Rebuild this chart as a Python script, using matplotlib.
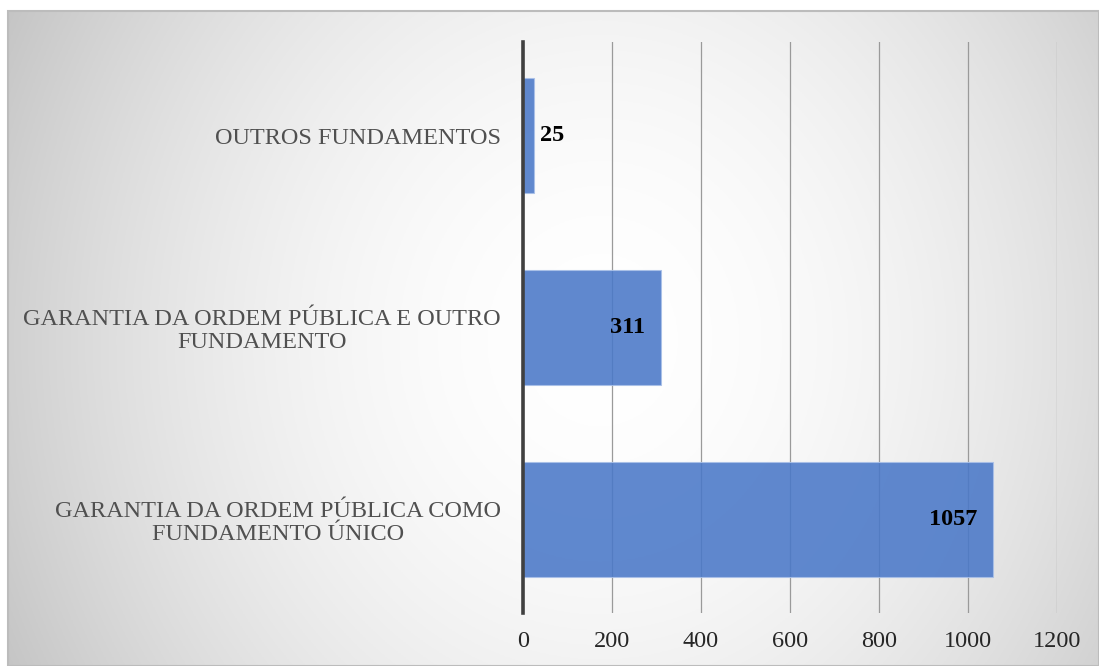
import numpy as np
import matplotlib.pyplot as plt
from matplotlib.patches import Rectangle

categorias = ["GARANTIA DA ORDEM PÚBLICA COMO\nFUNDAMENTO ÚNICO",
              "GARANTIA DA ORDEM PÚBLICA E OUTRO\nFUNDAMENTO",
              "OUTROS FUNDAMENTOS"]
valores = [1057, 311, 25]
ticks_x = [0, 200, 400, 600, 800, 1000, 1200]

plt.rcParams['font.family'] = ['Liberation Serif', 'DejaVu Serif']

W, H = 1099, 666
fig = plt.figure(figsize=(W / 100, H / 100), dpi=100)
fig.patch.set_facecolor('white')

# radial gradient background for the chart area
x0 = 8 / W
bg = fig.add_axes([x0, 0, 1 - x0, 1 - 11 / H], zorder=-10)
gx, gy = np.meshgrid(np.linspace(8, W, 400), np.linspace(11, H, 300))
r = np.sqrt(((gx - 600) / 560) ** 2 + ((gy - 340) / 620) ** 2)
shade = np.clip(1.0 - 0.165 * r ** 1.9, 0.75, 1.0)
bg.imshow(np.dstack([shade] * 3), aspect='auto', extent=[0, 1, 0, 1])
bg.set_axis_off()
fig.patches.append(Rectangle((x0, 0), 1 - x0, 1 - 11 / H, transform=fig.transFigure,
                             fill=False, edgecolor='#bcbcbc', linewidth=1.5))

ax = fig.add_axes([523 / W, 53 / H, (1057 - 523) / W, (613 - 42) / H])
ax.patch.set_alpha(0)
y = np.arange(len(categorias))
ax.barh(y, valores, height=0.6, color='#4a78c8', alpha=0.88,
        edgecolor='#a9c0e8', linewidth=0.8, zorder=3)

ax.set_xlim(0, 1200)
ax.set_ylim(-0.49, 2.49)
ax.set_xticks(ticks_x)
ax.set_yticks(y)
ax.set_yticklabels(categorias, multialignment='center', linespacing=1.15)
ax.tick_params(axis='x', length=0, pad=13, labelsize=17.5, labelcolor='#262626')
ax.tick_params(axis='y', length=0, pad=16, labelsize=17.5, labelcolor='#505050')
ax.grid(axis='x', color='#9a9a9a', linewidth=0.9, zorder=1)
for s in ['top', 'right', 'bottom']:
    ax.spines[s].set_visible(False)
ax.spines['left'].set_linewidth(2.6)
ax.spines['left'].set_color('#404040')
ax.spines['left'].set_zorder(4)

for yi, v in zip(y, valores):
    if v < 100:
        ax.annotate(str(v), (v, yi), xytext=(4, 0), textcoords='offset points',
                    ha='left', va='center', fontsize=17.5, fontweight='bold', zorder=5)
    else:
        ax.annotate(str(v), (v, yi), xytext=(-11.5, 0), textcoords='offset points',
                    ha='right', va='center', fontsize=17.5, fontweight='bold', zorder=5)

fig.savefig('out.png', dpi=100)
